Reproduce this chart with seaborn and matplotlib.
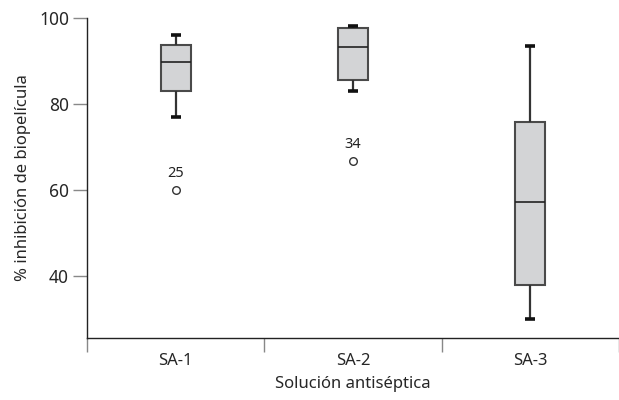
import numpy as np
import pandas as pd
import seaborn as sns
import matplotlib.pyplot as plt

# five-number summaries (whisker low, Q1, median, Q3, whisker high)
groups = ["SA-1", "SA-2", "SA-3"]
sa1 = [77.0, 83.0, 89.8, 93.7, 96.0]
sa2 = [83.0, 85.6, 93.3, 97.7, 98.1]
sa3 = [30.0, 37.9, 57.2, 75.8, 93.5]

# outliers (group, value, case label)
out_groups = ["SA-1", "SA-2"]
out_values = [60.0, 66.7]
out_labels = ["25", "34"]

sns.set_style("ticks")
plt.rcParams['font.family'] = ['Noto Sans', 'DejaVu Sans']

df = pd.DataFrame({
    "grupo": np.repeat(groups, 5),
    "valor": sa1 + sa2 + sa3,
})

fig = plt.figure(figsize=(6.19, 4.0), dpi=100)
ax = fig.add_axes([0.1406, 0.155, 0.8594, 0.80])

sns.boxplot(data=df, x="grupo", y="valor", order=groups, ax=ax,
            width=0.17, color="#d3d4d6", saturation=1, fliersize=0,
            linecolor="#4a4a4a", linewidth=1.5,
            medianprops=dict(color="#222222", linewidth=1.2),
            whiskerprops=dict(color="#333333", linewidth=1.6),
            capprops=dict(color="#111111", linewidth=2.6, solid_capstyle="butt"),
            capwidths=0.055)

# outliers with case labels
xpos = [groups.index(g) for g in out_groups]
ax.scatter(xpos, out_values, s=30, facecolor="white", edgecolor="#333333",
           linewidth=1.0, zorder=5)
for x, v, lab in zip(xpos, out_values, out_labels):
    ax.text(x, v + 2.2, lab, ha="center", va="bottom", fontsize=10.5, color="#222222")

ax.set_ylim(25.6, 100)
ax.set_xlim(-0.5, 2.5)
ax.set_yticks([40, 60, 80, 100])
ax.tick_params(axis="y", length=10, width=1, color="#888888", labelsize=12.5, pad=3)

# category separators as tick marks, labels centred without ticks
ax.set_xticks([-0.5, 0.5, 1.5, 2.5], minor=True)
ax.set_xticks([0, 1, 2])
ax.set_xticklabels(groups)
ax.tick_params(axis="x", which="major", length=0, labelsize=12, pad=11)
ax.tick_params(axis="x", which="minor", length=10, width=1, color="#888888")

ax.set_xlabel("Solución antiséptica", fontsize=12, labelpad=5)
ax.set_ylabel("% inhibición de biopelícula", fontsize=12, labelpad=6)

for s in ["top", "right"]:
    ax.spines[s].set_visible(False)
ax.spines["left"].set_color("#222222")
ax.spines["bottom"].set_color("#222222")
ax.spines["left"].set_linewidth(1.0)
ax.spines["bottom"].set_linewidth(1.0)

fig.savefig("out.png", dpi=100, facecolor="white")
